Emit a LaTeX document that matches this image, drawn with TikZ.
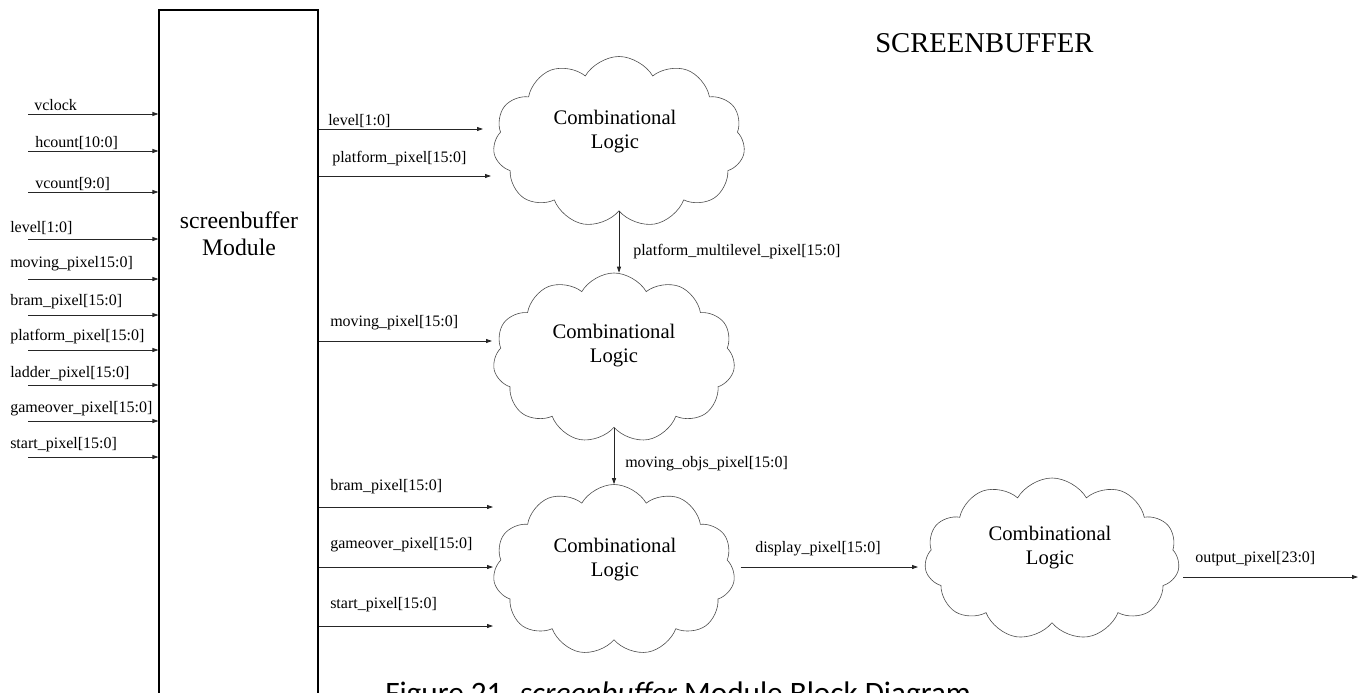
\documentclass[tikz,border=0pt]{standalone}
\usepackage{fontspec}
\setmainfont{Liberation Serif}
\newfontfamily\capfont{Carlito}
\usetikzlibrary{arrows.meta,shapes.symbols,calc}
\begin{document}
\begin{tikzpicture}[x=0.75pt,y=-0.75pt,
  wire/.style={line width=0.6pt, draw=black!85, -{Triangle[length=4.5pt,width=3pt]}},
  sig/.style={anchor=base west, inner sep=0pt, font=\fontsize{12}{14}\selectfont},
  blob/.style={cloud, cloud puffs=11, cloud puff arc=120, draw=black!70, line width=0.45pt, inner sep=0pt},
  blobtext/.style={align=center, inner sep=0pt, font=\fontsize{15.5}{18}\selectfont}
]
\useasboundingbox (0,0) rectangle (1362,692);

% the screenbuffer module block (runs off the lower edge)
\node[draw, line width=0.8pt, minimum width=119.25pt, minimum height=532.5pt, inner sep=0pt]
  (sb) at (238.5,365) {};
\node[align=center, inner sep=0pt, font=\fontsize{17.8}{20}\selectfont]
  (sbtext) at (239,234) {screenbuffer\\Module};

% title
\node[anchor=base west, inner sep=0pt, font=\fontsize{21.5}{24}\selectfont]
  (title) at (875,53) {SCREENBUFFER};

% input signals into the module
\foreach \n/\ya/\yl/\xl/\t in {
  vc/114/110/34/vclock,
  hc/151/147/35/hcount[10:0],
  vn/192/188/35/vcount[9:0],
  lv/239/232/10/level[1:0],
  mv/279/267/10/moving\_pixel15:0],
  br/315/305/10/bram\_pixel[15:0],
  pf/350/340/10/platform\_pixel[15:0],
  ld/385/377/10/ladder\_pixel[15:0],
  go/421/412/10/gameover\_pixel[15:0],
  st/457/448/10/start\_pixel[15:0]}{
  \coordinate (src-\n) at (28,\ya);
  \node[sig] (inlab-\n) at (\xl,\yl) {\t};
  \draw[wire] (src-\n) -- (sb.west |- src-\n);
}

% combinational logic clouds
\node[blob, minimum width=189pt, minimum height=128.25pt] (c1) at (619,142) {};
\node[blob, minimum width=181.5pt, minimum height=127.5pt] (c2) at (614,358) {};
\node[blob, minimum width=181.5pt, minimum height=128.25pt] (c3) at (614,570) {};
\node[blob, minimum width=191.25pt, minimum height=121.5pt] (c4) at (1052,559) {};

\node[blobtext] (c1t) at (615,132) {Combinational\\Logic};
\node[blobtext] (c2t) at (614,346) {Combinational\\Logic};
\node[blobtext] (c3t) at (615,560) {Combinational\\Logic};
\node[blobtext] (c4t) at (1050,548) {Combinational\\Logic};

% module outputs into the clouds
\foreach \n/\ya/\xe/\yl/\xl/\t in {
  lv/129/483/125/328/level[1:0],
  pf/176/491/162/332/platform\_pixel[15:0],
  mv/341/492/326/330/moving\_pixel[15:0],
  br/507/493/490/330/bram\_pixel[15:0],
  go/567/493/548/330/gameover\_pixel[15:0],
  st/626/493/608/330/start\_pixel[15:0]}{
  \coordinate (dst-\n) at (\xe,\ya);
  \node[sig] (outlab-\n) at (\xl,\yl) {\t};
  \draw[wire] (sb.east |- dst-\n) -- (dst-\n);
}

% cloud to cloud
\draw[wire] (c1.south) -- (c1.south |- c2.north);
\node[sig] (l12) at (633,255) {platform\_multilevel\_pixel[15:0]};
\draw[wire] (c2.south) -- (c2.south |- c3.north);
\node[sig] (l23) at (625,467) {moving\_objs\_pixel[15:0]};

\coordinate (dsp) at (918,567);
\draw[wire] ($(c3.east |- dsp)+(7,0)$) -- (dsp);
\node[sig] (l34) at (755,552) {display\_pixel[15:0]};

\coordinate (outp) at (1358,577);
\draw[wire] ($(c4.east |- outp)+(5,0)$) -- (outp);
\node[sig] (lout) at (1195,562) {output\_pixel[23:0]};

% caption
\node[anchor=base west, inner sep=0pt, font=\capfont\fontsize{23.4}{26}\selectfont]
  (cap) at (385,703) {Figure 21. \textit{screenbuffer} Module Block Diagram};
\end{tikzpicture}
\end{document}
